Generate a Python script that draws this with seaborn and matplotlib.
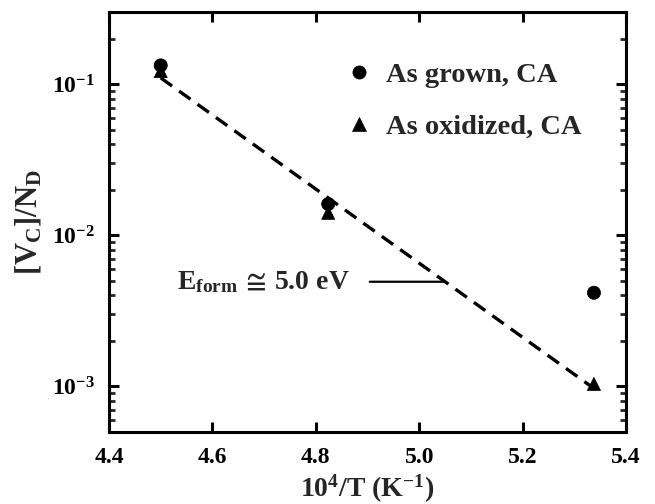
import numpy as np
import pandas as pd
import matplotlib
matplotlib.use("Agg")
import matplotlib.pyplot as plt
import seaborn as sns
from matplotlib.ticker import LogLocator, NullFormatter, FixedLocator

# ---- data ----
x_grown = [4.50, 4.824, 5.338]
y_grown = [0.133, 0.0161, 0.00417]
x_oxid = [4.50, 4.824, 5.338]
y_oxid = [0.122, 0.0141, 0.00104]
fit_x = [4.50, 5.34]
fit_y = [0.11, 0.00096]
series_names = ["As grown, CA", "As oxidized, CA"]
xticks = [4.4, 4.6, 4.8, 5.0, 5.2, 5.4]
xtick_labels = ["4.4", "4.6", "4.8", "5.0", "5.2", "5.4"]
yticks = [1e-3, 1e-2, 1e-1]
ytick_labels = [r"$10^{-3}$", r"$10^{-2}$", r"$10^{-1}$"]
annot_text = r"$\mathrm{E_{form}}\,\cong\,\mathrm{5.0\ eV}$"

sns.set_theme(style="ticks")
plt.rcParams["font.family"] = ["Liberation Serif", "DejaVu Serif"]
plt.rcParams["font.weight"] = "bold"
plt.rcParams["mathtext.fontset"] = "custom"
plt.rcParams["mathtext.rm"] = "Liberation Serif:bold"
plt.rcParams["mathtext.it"] = "Liberation Serif:italic:bold"
plt.rcParams["mathtext.bf"] = "Liberation Serif:bold"

df = pd.DataFrame({
    "x": x_grown + x_oxid,
    "y": y_grown + y_oxid,
    "series": [series_names[0]] * len(x_grown) + [series_names[1]] * len(x_oxid),
})

fig = plt.figure(figsize=(6.55, 5.04), dpi=100)
ax = fig.add_axes([109 / 655, 1 - 432 / 504, (626 - 109) / 655, (432 - 12) / 504])

sns.lineplot(x=fit_x, y=fit_y, ax=ax, color="black", lw=2.4, legend=False)
ax.lines[0].set_dashes((4.2, 2.6))

sns.scatterplot(data=df, x="x", y="y", style="series",
                markers={series_names[0]: "o", series_names[1]: "^"},
                color="black", s=90, edgecolor="black", linewidth=0.5, ax=ax, zorder=3)

ax.set_yscale("log")
ax.set_xlim(4.4, 5.4)
ax.set_ylim(5e-4, 0.3)
ax.xaxis.set_major_locator(FixedLocator(xticks))
ax.set_xticklabels(xtick_labels)
ax.yaxis.set_major_locator(FixedLocator(yticks))
ax.set_yticklabels(ytick_labels)
ax.yaxis.set_minor_locator(LogLocator(base=10, subs=np.arange(2, 10), numticks=20))
ax.yaxis.set_minor_formatter(NullFormatter())

for s in ax.spines.values():
    s.set_linewidth(2.2)
    s.set_color("black")
ax.tick_params(axis="both", which="major", direction="in", length=7, width=2.2,
               top=True, right=True, labelsize=17, colors="black")
ax.tick_params(axis="x", which="major", pad=11)
ax.tick_params(axis="y", which="major", pad=10)
ax.tick_params(axis="y", which="minor", direction="in", length=4, width=2.0,
               left=True, right=True)

ax.set_xlabel(r"$\mathrm{10^4/T\ (K^{-1})}$", fontsize=20, labelpad=3)
ax.set_ylabel(r"$\mathrm{[V_C]/N_D}$", fontsize=22, labelpad=6)

# annotation
ax.annotate("", xy=(5.054, 0.00493), xytext=(4.899, 0.00493),
            arrowprops=dict(arrowstyle="-", lw=1.6, color="black"))
ax.text(4.866, 0.00493, annot_text, ha="right", va="center", fontsize=20)

leg = ax.legend(loc="upper left", bbox_to_anchor=(0.407, 0.941), frameon=False,
                fontsize=20.5, handletextpad=0.45, handlelength=1.0, borderpad=0.4,
                labelspacing=0.9, markerscale=1.0, title=None)
for t in leg.get_texts():
    t.set_fontweight("bold")

fig.savefig("out.png", dpi=100)
